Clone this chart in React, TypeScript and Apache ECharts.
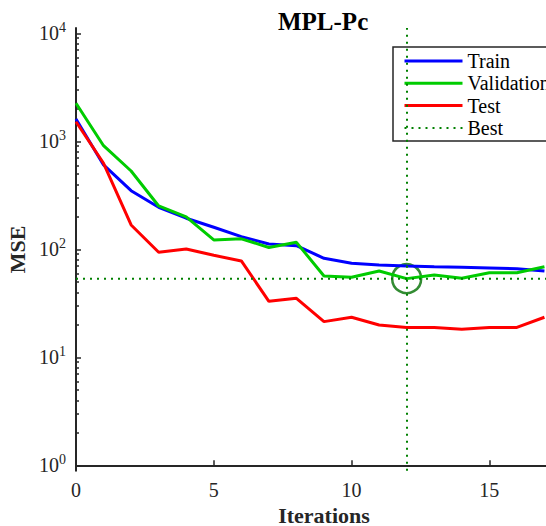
import React, { useEffect, useRef } from 'react';
import * as echarts from 'echarts';

const iterations = [0, 1, 2, 3, 4, 5, 6, 7, 8, 9, 10, 11, 12, 13, 14, 15, 16, 17];
const trainMSE = [1608, 604, 349, 245, 194, 160, 131, 112, 108, 82.6, 74.2, 71.6, 70, 69, 68.1, 67.1, 66.1, 63];
const validationMSE = [2249, 910, 531, 252, 200, 122, 125, 104, 116, 56.6, 55.1, 63, 53.5, 57.8, 54, 60.7, 60.7, 69];
const testMSE = [1518, 626, 168, 93.8, 100.6, 88, 78, 33, 35.2, 21.4, 23.5, 19.9, 18.9, 18.9, 18.2, 18.9, 18.9, 23.5];
const bestEpoch = 12;
const bestMSE = 53.5;
const xMax = 18;
const xTickValues = [0, 5, 10, 15];
const yDecadeExponents = [0, 1, 2, 3, 4];
const yLogMin = -0.05;
const yLogMax = 4.05;

export default function App() {
  const ref = useRef<HTMLDivElement>(null);
  useEffect(() => {
    const chart = echarts.init(ref.current!, null, { renderer: 'svg' });
    const font = 'Liberation Serif';
    const axisColor = '#262626';
    const minorTicks: number[] = [];
    yDecadeExponents.slice(0, -1).forEach((d) => {
      for (let k = 2; k <= 9; k++) minorTicks.push(d + Math.log10(k));
    });
    const dotted = [2, 5];
    chart.setOption({
      animation: false,
      backgroundColor: '#ffffff',
      textStyle: { fontFamily: font },
      title: {
        text: 'MPL-Pc',
        left: 278,
        top: 9,
        padding: 0,
        textStyle: { fontFamily: font, fontWeight: 'bold', fontSize: 25, color: '#000' },
      },
      legend: {
        data: [
          { name: 'Train' },
          { name: 'Validation' },
          { name: 'Test' },
          { name: 'Best', lineStyle: { width: 2 } },
        ],
        orient: 'vertical',
        left: 393,
        top: 47,
        itemWidth: 58,
        itemHeight: 14,
        itemGap: 0.3,
        padding: [3, 8, 2, 10],
        backgroundColor: '#ffffff',
        borderColor: axisColor,
        borderWidth: 1.5,
        borderRadius: 0,
        selectedMode: false,
        textStyle: { fontFamily: font, fontSize: 20, color: '#000', lineHeight: 22 },
        itemStyle: { opacity: 0 },
        lineStyle: { width: 3 },
      },
      grid: {
        left: 76,
        right: -26,
        top: 27.9,
        bottom: 55.3,
        containLabel: false,
        outerBoundsMode: 'none',
      },
      xAxis: {
        type: 'value',
        min: 0,
        max: xMax,
        name: 'Iterations',
        nameLocation: 'middle',
        nameGap: 29,
        nameTextStyle: { fontFamily: font, fontSize: 22, lineHeight: 22, fontWeight: 'bold', color: axisColor },
        axisLine: { show: true, lineStyle: { color: axisColor, width: 2 } },
        axisTick: { show: true, inside: true, length: 5, customValues: xTickValues, lineStyle: { color: axisColor, width: 1.5 } },
        axisLabel: { customValues: xTickValues, fontFamily: font, fontSize: 20, color: axisColor, margin: 9 },
        splitLine: { show: false },
      },
      yAxis: [
        {
          type: 'log',
          logBase: 10,
          min: Math.pow(10, yLogMin),
          max: Math.pow(10, yLogMax),
          show: false,
          position: 'left',
          splitLine: { show: false },
        },
        {
          type: 'value',
          min: yLogMin,
          max: yLogMax,
          position: 'left',
          name: 'MSE',
          nameLocation: 'middle',
          nameRotate: 90,
          nameGap: 44,
          nameTextStyle: { fontFamily: font, fontSize: 22, fontWeight: 'bold', color: axisColor },
          axisLine: { show: true, lineStyle: { color: axisColor, width: 2 } },
          axisTick: { show: true, inside: true, length: 5, customValues: yDecadeExponents, lineStyle: { color: axisColor, width: 1.5 } },
          axisLabel: {
            customValues: yDecadeExponents,
            margin: 10,
            formatter: (v: number) => `{b|10}{s|${Math.round(v)}}`,
            rich: {
              b: { fontFamily: font, fontSize: 20, color: axisColor, lineHeight: 26 },
              s: { fontFamily: font, fontSize: 14, color: axisColor, verticalAlign: 'top' },
            },
          },
          splitLine: { show: false },
        },
        {
          type: 'value',
          min: yLogMin,
          max: yLogMax,
          position: 'left',
          axisLine: { show: false },
          axisTick: { show: true, inside: true, length: 3, customValues: minorTicks, lineStyle: { color: axisColor, width: 1.5 } },
          axisLabel: { show: false },
          splitLine: { show: false },
        },
      ],
      series: [
        {
          name: 'Train',
          type: 'line',
          yAxisIndex: 0,
          data: iterations.map((x, i) => [x, trainMSE[i]]),
          symbol: 'none',
          silent: true,
          lineStyle: { color: '#0000ff', width: 3 },
          itemStyle: { color: '#0000ff' },
        },
        {
          name: 'Validation',
          type: 'line',
          yAxisIndex: 0,
          data: iterations.map((x, i) => [x, validationMSE[i]]),
          symbol: 'none',
          silent: true,
          lineStyle: { color: '#00cc00', width: 3 },
          itemStyle: { color: '#00cc00' },
        },
        {
          name: 'Test',
          type: 'line',
          yAxisIndex: 0,
          data: iterations.map((x, i) => [x, testMSE[i]]),
          symbol: 'none',
          silent: true,
          lineStyle: { color: '#ff0000', width: 3 },
          itemStyle: { color: '#ff0000' },
        },
        {
          name: 'Best',
          type: 'line',
          yAxisIndex: 0,
          data: [[0, bestMSE], [xMax, bestMSE]],
          symbol: 'none',
          silent: true,
          lineStyle: { color: '#008000', width: 2, type: dotted },
          itemStyle: { color: '#008000' },
          markLine: {
            silent: true,
            symbol: ['none', 'none'],
            label: { show: false },
            lineStyle: { color: '#008000', width: 2, type: dotted },
            data: [{ xAxis: bestEpoch }],
          },
        },
        {
          name: 'BestPoint',
          type: 'scatter',
          yAxisIndex: 0,
          data: [[bestEpoch, bestMSE]],
          symbol: 'circle',
          symbolSize: 29,
          silent: true,
          itemStyle: { color: 'rgba(0,0,0,0)', borderColor: '#006f00', borderWidth: 2.5 },
        },
      ],
    });
    return () => chart.dispose();
  }, []);
  return (
    <div
      ref={ref}
      style={{ position: 'fixed', left: 0, top: 0, width: 546, height: 526, background: '#fff' }}
    />
  );
}
